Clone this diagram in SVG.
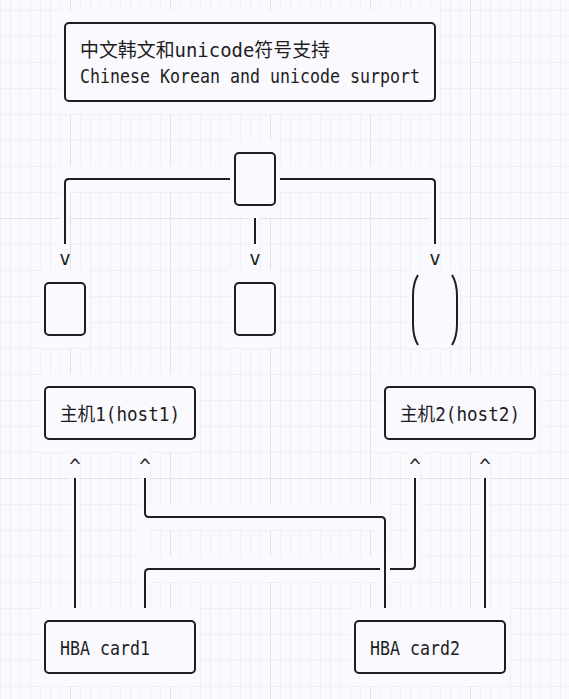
<svg xmlns="http://www.w3.org/2000/svg" width="569" height="699" viewBox="0 0 569 699">
  <defs>
    <pattern id="minor" x="0" y="10" width="10" height="26" patternUnits="userSpaceOnUse">
      <path d="M0,0 V26 M0,0 H10" stroke="#ecf0fa" stroke-width="2" fill="none"/>
    </pattern>
    <pattern id="major" x="70" y="218" width="100" height="260" patternUnits="userSpaceOnUse">
      <path d="M0,0 V260 M0,0 H100" stroke="#e0e4f2" stroke-width="2" fill="none"/>
    </pattern>
  </defs>
  <style>
    .bg { fill: #f9f9fe; }
    .mask { fill: #f9f9fe; stroke: none; }
    .box { fill: #f9f9fe; stroke: #1e1e1e; stroke-width: 2; }
    .line { fill: none; stroke: #1e1e1e; stroke-width: 2; stroke-linecap: butt; }
    .t { font-family: "DejaVu Sans Mono", "Liberation Mono", "Noto Sans CJK SC", monospace; font-size: 19px; fill: #1e1e1e; }
    .c { text-anchor: middle; }
  </style>

  <g id="background">
    <rect class="bg" x="0" y="0" width="569" height="699"/>
    <rect x="0" y="0" width="569" height="699" fill="url(#minor)"/>
    <rect x="0" y="0" width="569" height="699" fill="url(#major)"/>
  </g>

  <g id="cell-masks">
    <rect class="mask" x="60" y="10" width="380" height="104"/>
    <rect class="mask" x="230" y="140" width="50" height="78"/>
    <rect class="mask" x="60" y="166" width="380" height="26"/>
    <rect class="mask" x="60" y="166" width="10" height="104"/>
    <rect class="mask" x="250" y="218" width="10" height="52"/>
    <rect class="mask" x="430" y="166" width="10" height="104"/>
    <rect class="mask" x="40" y="270" width="50" height="78"/>
    <rect class="mask" x="230" y="270" width="50" height="78"/>
    <rect class="mask" x="410" y="270" width="50" height="78"/>
    <rect class="mask" x="40" y="374" width="160" height="78"/>
    <rect class="mask" x="380" y="374" width="160" height="78"/>
    <rect class="mask" x="70" y="452" width="10" height="156"/>
    <rect class="mask" x="140" y="452" width="10" height="156"/>
    <rect class="mask" x="410" y="452" width="10" height="130"/>
    <rect class="mask" x="480" y="452" width="10" height="156"/>
    <rect class="mask" x="140" y="504" width="250" height="26"/>
    <rect class="mask" x="380" y="504" width="10" height="104"/>
    <rect class="mask" x="140" y="556" width="280" height="26"/>
    <rect class="mask" x="40" y="608" width="160" height="78"/>
    <rect class="mask" x="350" y="608" width="160" height="78"/>
  </g>

  <g id="connectors">
    <path class="line" d="M230,179 H69 Q65,179 65,183 V244"/>
    <path class="line" d="M255,218 V244"/>
    <path class="line" d="M280,179 H431 Q435,179 435,183 V244"/>
    <text class="t c" x="65" y="265">v</text>
    <text class="t c" x="255" y="265">v</text>
    <text class="t c" x="435" y="265">v</text>

    <text class="t c" x="75" y="473">^</text>
    <text class="t c" x="145" y="473">^</text>
    <text class="t c" x="415" y="473">^</text>
    <text class="t c" x="485" y="473">^</text>
    <path class="line" d="M75,478 V608"/>
    <path class="line" d="M145,478 V513 Q145,517 149,517 H381 Q385,517 385,521 V608"/>
    <path class="line" d="M415,478 V565 Q415,569 411,569 H390"/>
    <path class="line" d="M380,569 H149 Q145,569 145,573 V608"/>
    <path class="line" d="M485,478 V608"/>
  </g>

  <g id="title">
    <rect class="box" x="65" y="23" width="370" height="78" rx="4"/>
    <text class="t" x="80" y="57" textLength="250" lengthAdjust="spacingAndGlyphs">中文韩文和unicode符号支持</text>
    <text class="t" x="80" y="83" textLength="340" lengthAdjust="spacingAndGlyphs">Chinese Korean and unicode surport</text>
  </g>

  <g id="root-box">
    <rect class="box" x="235" y="153" width="40" height="52" rx="4"/>
  </g>
  <g id="child-left">
    <rect class="box" x="45" y="283" width="40" height="52" rx="4"/>
  </g>
  <g id="child-middle">
    <rect class="box" x="235" y="283" width="40" height="52" rx="4"/>
  </g>
  <g id="child-right">
    <path class="line" d="M418,275 Q413,283 413,296 L413,324 Q413,337 418,345"/>
    <path class="line" d="M452,275 Q457,283 457,296 L457,324 Q457,337 452,345"/>
  </g>

  <g id="host1">
    <rect class="box" x="45" y="387" width="150" height="52" rx="4"/>
    <text class="t" x="60" y="421" textLength="120" lengthAdjust="spacingAndGlyphs">主机1(host1)</text>
  </g>
  <g id="host2">
    <rect class="box" x="385" y="387" width="150" height="52" rx="4"/>
    <text class="t" x="400" y="421" textLength="120" lengthAdjust="spacingAndGlyphs">主机2(host2)</text>
  </g>

  <g id="hba1">
    <rect class="box" x="45" y="621" width="150" height="52" rx="4"/>
    <text class="t" x="60" y="655" textLength="90" lengthAdjust="spacingAndGlyphs">HBA card1</text>
  </g>
  <g id="hba2">
    <rect class="box" x="355" y="621" width="150" height="52" rx="4"/>
    <text class="t" x="370" y="655" textLength="90" lengthAdjust="spacingAndGlyphs">HBA card2</text>
  </g>
</svg>
